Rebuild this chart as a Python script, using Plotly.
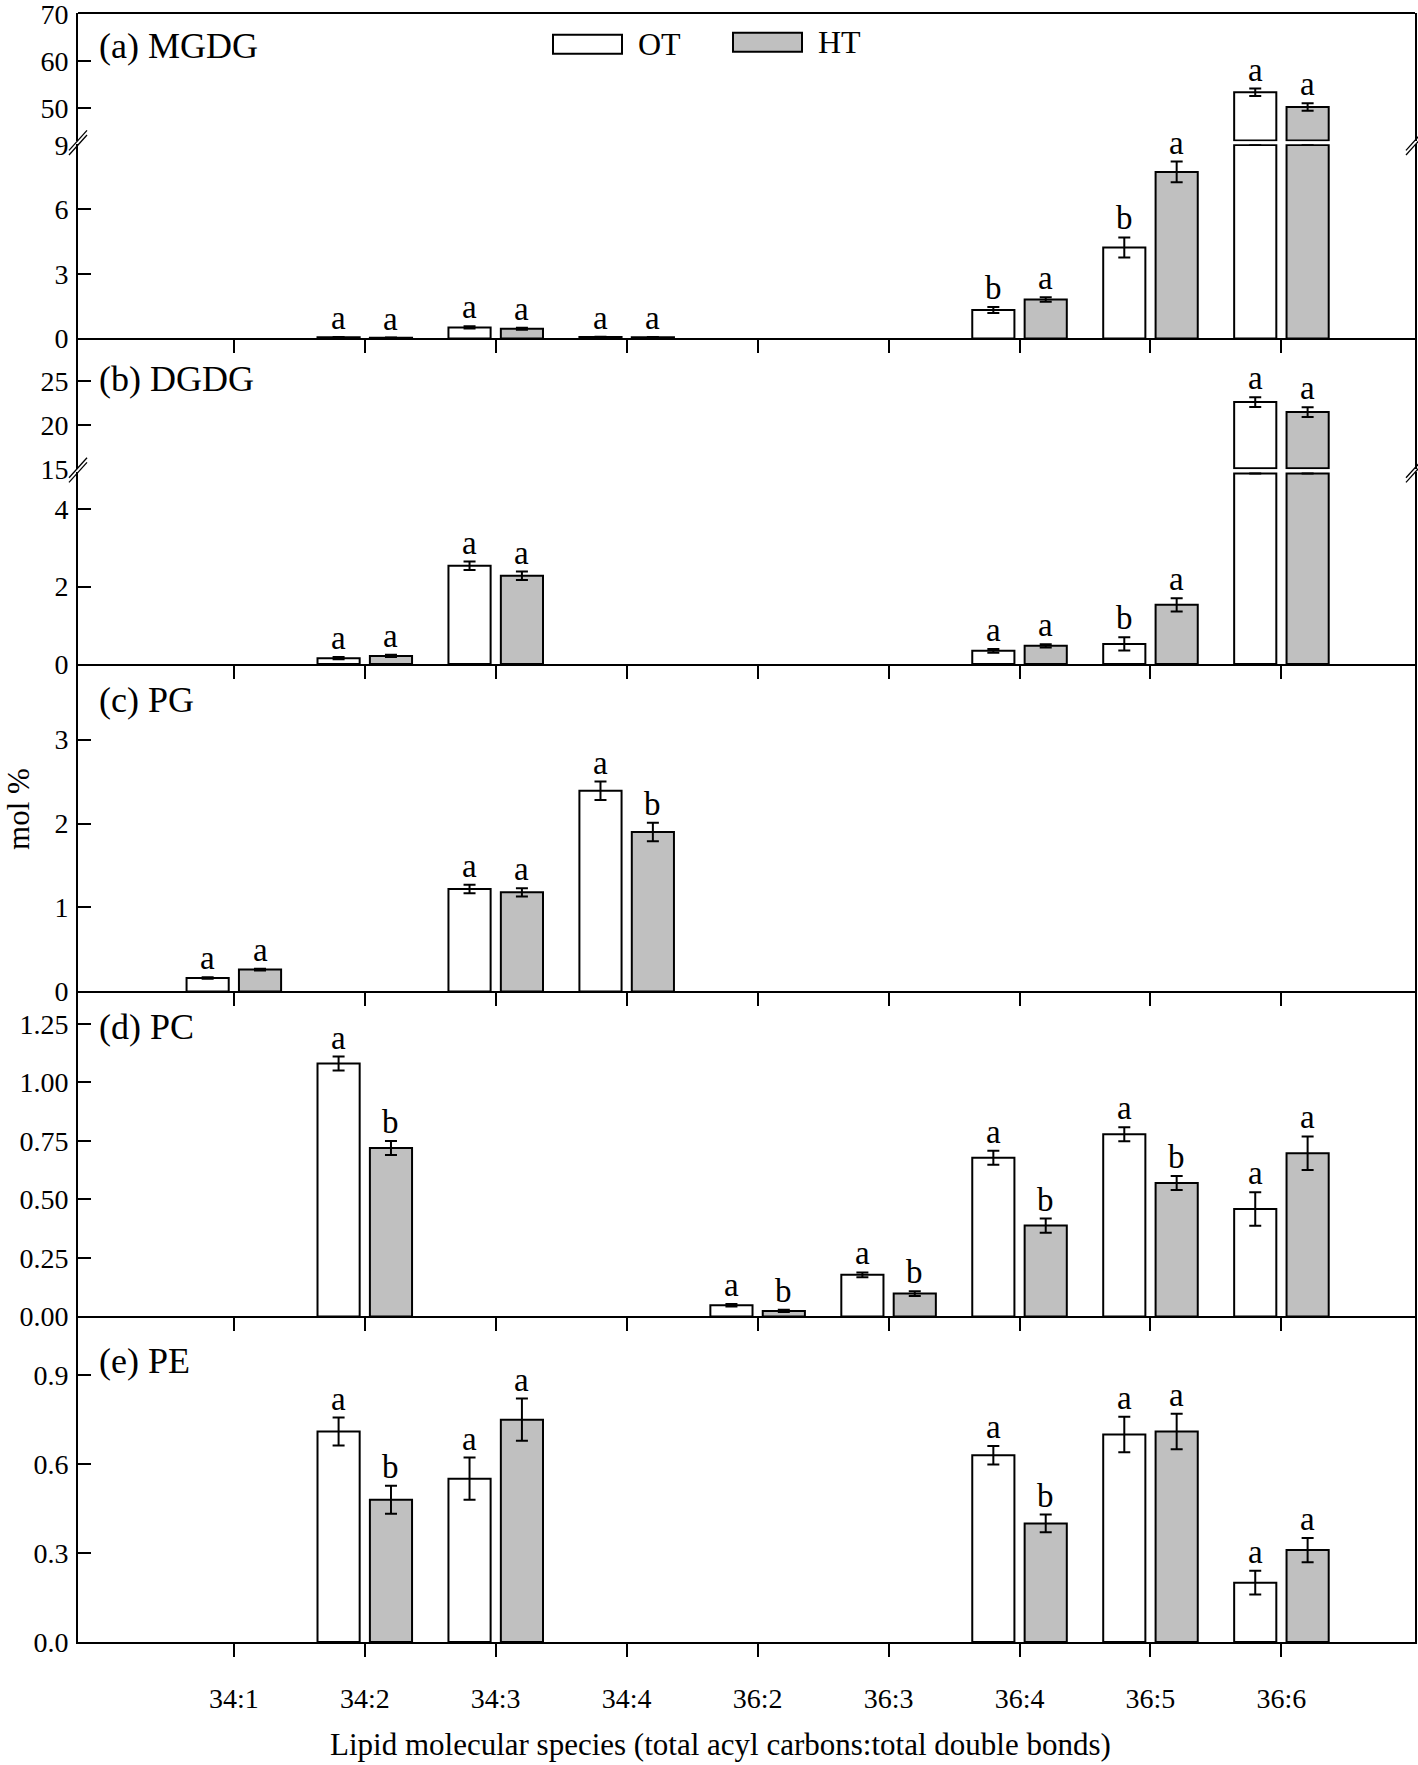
import plotly.graph_objects as go

# ---------------- data ----------------
categories = ["34:1", "34:2", "34:3", "34:4", "36:2", "36:3", "36:4", "36:5", "36:6"]
series_names = ["OT", "HT"]

mgdg_ot = [None, 0.05, 0.51, 0.07, None, None, 1.32, 4.23, 53.3]
mgdg_ot_err = [None, 0.01, 0.05, 0.01, None, None, 0.14, 0.47, 0.8]
mgdg_ht = [None, 0.03, 0.45, 0.05, None, None, 1.81, 7.75, 50.2]
mgdg_ht_err = [None, 0.01, 0.05, 0.01, None, None, 0.10, 0.48, 0.8]
mgdg_ot_let = [None, "a", "a", "a", None, None, "b", "b", "a"]
mgdg_ht_let = [None, "a", "a", "a", None, None, "a", "a", "a"]

dgdg_ot = [None, 0.15, 2.54, None, None, None, 0.34, 0.52, 22.6]
dgdg_ot_err = [None, 0.03, 0.11, None, None, None, 0.05, 0.17, 0.55]
dgdg_ht = [None, 0.21, 2.28, None, None, None, 0.47, 1.53, 21.47]
dgdg_ht_err = [None, 0.03, 0.11, None, None, None, 0.04, 0.17, 0.55]
dgdg_ot_let = [None, "a", "a", None, None, None, "a", "b", "a"]
dgdg_ht_let = [None, "a", "a", None, None, None, "a", "a", "a"]

pg_ot = [0.16, None, 1.22, 2.39, None, None, None, None, None]
pg_ot_err = [0.01, None, 0.05, 0.11, None, None, None, None, None]
pg_ht = [0.26, None, 1.18, 1.90, None, None, None, None, None]
pg_ht_err = [0.01, None, 0.05, 0.11, None, None, None, None, None]
pg_ot_let = ["a", None, "a", "a", None, None, None, None, None]
pg_ht_let = ["a", None, "a", "b", None, None, None, None, None]

pc_ot = [None, 1.08, None, None, 0.048, 0.178, 0.678, 0.778, 0.459]
pc_ot_err = [None, 0.03, None, None, 0.005, 0.01, 0.03, 0.03, 0.072]
pc_ht = [None, 0.719, None, None, 0.024, 0.098, 0.388, 0.57, 0.697]
pc_ht_err = [None, 0.03, None, None, 0.005, 0.01, 0.03, 0.03, 0.072]
pc_ot_let = [None, "a", None, None, "a", "a", "a", "a", "a"]
pc_ht_let = [None, "b", None, None, "b", "b", "b", "b", "a"]

pe_ot = [None, 0.71, 0.551, None, None, None, 0.63, 0.70, 0.20]
pe_ot_err = [None, 0.047, 0.071, None, None, None, 0.031, 0.06, 0.04]
pe_ht = [None, 0.48, 0.75, None, None, None, 0.40, 0.71, 0.31]
pe_ht_err = [None, 0.047, 0.071, None, None, None, 0.03, 0.06, 0.041]
pe_ot_let = [None, "a", "a", None, None, None, "a", "a", "a"]
pe_ht_let = [None, "b", "a", None, None, None, "b", "a", "a"]

panel_titles = ["(a) MGDG", "(b) DGDG", "(c) PG", "(d) PC", "(e) PE"]
x_title = "Lipid molecular species (total acyl carbons:total double bonds)"
y_title = "mol %"

# ---------------- layout / style ----------------
FIG_W, FIG_H = 1418, 1765
PLOT_L, PLOT_R = 78, 1415
PLOT_T, PLOT_B = 12.8, 1642.3
X_RANGE = [-1.19, 9.02]
FONT = "Liberation Serif"
BARGAP = 0.2
BARGROUPGAP = 0.195
FILLS = {"OT": "white", "HT": "#c0c0c0"}
LW = 2


def px_x(x):
    return (x - PLOT_L) / (PLOT_R - PLOT_L)


def px_y(y):
    return (PLOT_B - y) / (PLOT_B - PLOT_T)


panels = [
    dict(data={"OT": (mgdg_ot, mgdg_ot_err, mgdg_ot_let), "HT": (mgdg_ht, mgdg_ht_err, mgdg_ht_let)},
         lo=dict(dom=(338.3, 144.0), rng=[0, 9.04], ticks=[0, 3, 6, 9], fmt="d"),
         up=dict(dom=(141.0, 12.8), rng=[42.9, 70.2], ticks=[50, 60, 70], fmt="d"),
         cap=9.0, base=43.05, brk=142.5, label_y=46),
    dict(data={"OT": (dgdg_ot, dgdg_ot_err, dgdg_ot_let), "HT": (dgdg_ht, dgdg_ht_err, dgdg_ht_let)},
         lo=dict(dom=(664.0, 472.0), rng=[0, 4.965], ticks=[0, 2, 4], fmt="d"),
         up=dict(dom=(469.3, 338.3), rng=[15, 29.8], ticks=[15, 20, 25], fmt="d"),
         cap=4.93, base=15.12, brk=470.0, label_y=379),
    dict(data={"OT": (pg_ot, pg_ot_err, pg_ot_let), "HT": (pg_ht, pg_ht_err, pg_ht_let)},
         lo=dict(dom=(991.5, 664.0), rng=[0, 3.9], ticks=[0, 1, 2, 3], fmt="d"),
         up=None, label_y=700),
    dict(data={"OT": (pc_ot, pc_ot_err, pc_ot_let), "HT": (pc_ht, pc_ht_err, pc_ht_let)},
         lo=dict(dom=(1316.7, 991.5), rng=[0, 1.388], ticks=[0, 0.25, 0.5, 0.75, 1.0, 1.25], fmt=".2f"),
         up=None, label_y=1027),
    dict(data={"OT": (pe_ot, pe_ot_err, pe_ot_let), "HT": (pe_ht, pe_ht_err, pe_ht_let)},
         lo=dict(dom=(1642.3, 1316.7), rng=[0, 1.098], ticks=[0, 0.3, 0.6, 0.9], fmt=".1f"),
         up=None, label_y=1361),
]

fig = go.Figure()
axes = {}
annotations = []
shapes = []
tickfont = dict(family=FONT, size=28, color="black")
letter_font = dict(family=FONT, size=33, color="black")
half = (1 - BARGAP) / 4
offsets = {"OT": -half, "HT": half}


def yname(i):
    return "y" if i == 1 else f"y{i}"


def ykey(i):
    return "yaxis" if i == 1 else f"yaxis{i}"


def y_axis(spec, xn):
    return dict(domain=[px_y(spec["dom"][0]), px_y(spec["dom"][1])], range=spec["rng"],
                tickmode="array", tickvals=spec["ticks"], tickformat=spec["fmt"],
                showline=True, linecolor="black", linewidth=LW, mirror=True,
                ticks="inside", ticklen=13, tickwidth=LW, tickcolor="black",
                showgrid=False, zeroline=False, tickfont=tickfont, automargin=False,
                ticklabelstandoff=2, ticklabeloverflow="allow", anchor=xn, fixedrange=True)


def slash(cx, cy):
    out = []
    for d in (-2.3, 2.3):
        out.append(dict(type="line", xref="paper", yref="paper",
                        x0=px_x(cx - 9), y0=px_y(cy + d + 10),
                        x1=px_x(cx + 9), y1=px_y(cy + d - 10),
                        line=dict(color="black", width=1.3)))
    return out


yi = 0
for k, p in enumerate(panels):
    xn = "x" if k == 0 else f"x{k + 1}"
    xk = "xaxis" if k == 0 else f"xaxis{k + 1}"
    yi += 1
    lo_i = yi
    axes[ykey(lo_i)] = y_axis(p["lo"], xn)
    up_i = None
    if p["up"] is not None:
        yi += 1
        up_i = yi
        axes[ykey(up_i)] = y_axis(p["up"], xn)

    axes[xk] = dict(type="category", categoryorder="array", categoryarray=categories,
                    range=X_RANGE, domain=[0, 1], anchor=yname(lo_i),
                    showline=True, linecolor="black", linewidth=LW,
                    ticks="outside", ticklen=13, tickwidth=LW, tickcolor="black",
                    showgrid=False, zeroline=False, showticklabels=(k == len(panels) - 1),
                    tickfont=tickfont, ticklabelstandoff=17, automargin=False,
                    ticklabeloverflow="allow", fixedrange=True)

    for s in series_names:
        vals, errs, lets = p["data"][s]
        if up_i is None:
            lo_vals, lo_errs = vals, errs
        else:
            cap = p["cap"]
            lo_vals = [None if v is None else min(v, cap) for v in vals]
            lo_errs = [None if (v is None or v > cap) else e for v, e in zip(vals, errs)]
            up_vals = [v - p["base"] if (v is not None and v > cap) else None for v in vals]
            up_errs = [e if (v is not None and v > cap) else None for v, e in zip(vals, errs)]
            fig.add_trace(go.Bar(x=categories, y=up_vals, base=p["base"], name=s,
                                 xaxis=xn, yaxis=yname(up_i), showlegend=False,
                                 marker=dict(color=FILLS[s], line=dict(color="black", width=LW)),
                                 error_y=dict(type="data", array=up_errs, color="black",
                                              thickness=2, width=6)))
        fig.add_trace(go.Bar(x=categories, y=lo_vals, name=s, xaxis=xn, yaxis=yname(lo_i),
                             showlegend=False,
                             marker=dict(color=FILLS[s], line=dict(color="black", width=LW)),
                             error_y=dict(type="data", array=lo_errs, color="black",
                                          thickness=2, width=6)))
        # significance letters
        for i, (v, e, t) in enumerate(zip(vals, errs, lets)):
            if v is None or t is None:
                continue
            yr = yname(lo_i)
            if up_i is not None and v > p["cap"]:
                yr = yname(up_i)
            annotations.append(dict(x=i + offsets[s], y=v + (e or 0), xref=xn, yref=yr,
                                    text=t, showarrow=False, yanchor="bottom",
                                    xanchor="center", font=letter_font, yshift=-1))

    # panel label
    annotations.append(dict(x=px_x(97), y=px_y(p["label_y"]), xref="paper", yref="paper",
                            text=panel_titles[k], showarrow=False, xanchor="left",
                            yanchor="middle", font=dict(family=FONT, size=36, color="black")))
    if up_i is not None:
        shapes += slash(PLOT_L, p["brk"])
        shapes += slash(PLOT_R, p["brk"])

# top frame line
shapes.append(dict(type="line", xref="paper", yref="paper", x0=0, x1=1, y0=1, y1=1,
                   line=dict(color="black", width=LW)))

# manual legend (large swatches as in the original)
legend_pos = {"OT": (553, 622, 34.5, 53.5, 636), "HT": (733, 802, 32.5, 51.5, 816)}
for s in series_names:
    x0, x1, y0, y1, tx = legend_pos[s]
    shapes.append(dict(type="rect", xref="paper", yref="paper",
                       x0=px_x(x0), x1=px_x(x1), y0=px_y(y1), y1=px_y(y0),
                       fillcolor=FILLS[s], line=dict(color="black", width=LW)))
    annotations.append(dict(x=px_x(tx), y=px_y((y0 + y1) / 2), xref="paper", yref="paper",
                            text=s, showarrow=False, xanchor="left", yanchor="middle",
                            font=dict(family=FONT, size=32, color="black")))

# axis titles
annotations.append(dict(x=px_x(720), y=px_y(1745), xref="paper", yref="paper", text=x_title,
                        showarrow=False, xanchor="center", yanchor="middle",
                        font=dict(family=FONT, size=31, color="black")))
annotations.append(dict(x=px_x(19), y=px_y(809), xref="paper", yref="paper", text=y_title,
                        showarrow=False, xanchor="center", yanchor="middle", textangle=-90,
                        font=dict(family=FONT, size=31, color="black")))

fig.update_layout(
    width=FIG_W, height=FIG_H,
    margin=dict(l=PLOT_L, r=FIG_W - PLOT_R, t=PLOT_T, b=FIG_H - PLOT_B, pad=0,
                autoexpand=False),
    paper_bgcolor="white", plot_bgcolor="white",
    barmode="group", bargap=BARGAP, bargroupgap=BARGROUPGAP,
    showlegend=False, annotations=annotations, shapes=shapes,
    font=dict(family=FONT, color="black"),
    **axes,
)

fig.write_html("out.html", config={"displayModeBar": False},
               post_script="document.body.style.margin='0';")
